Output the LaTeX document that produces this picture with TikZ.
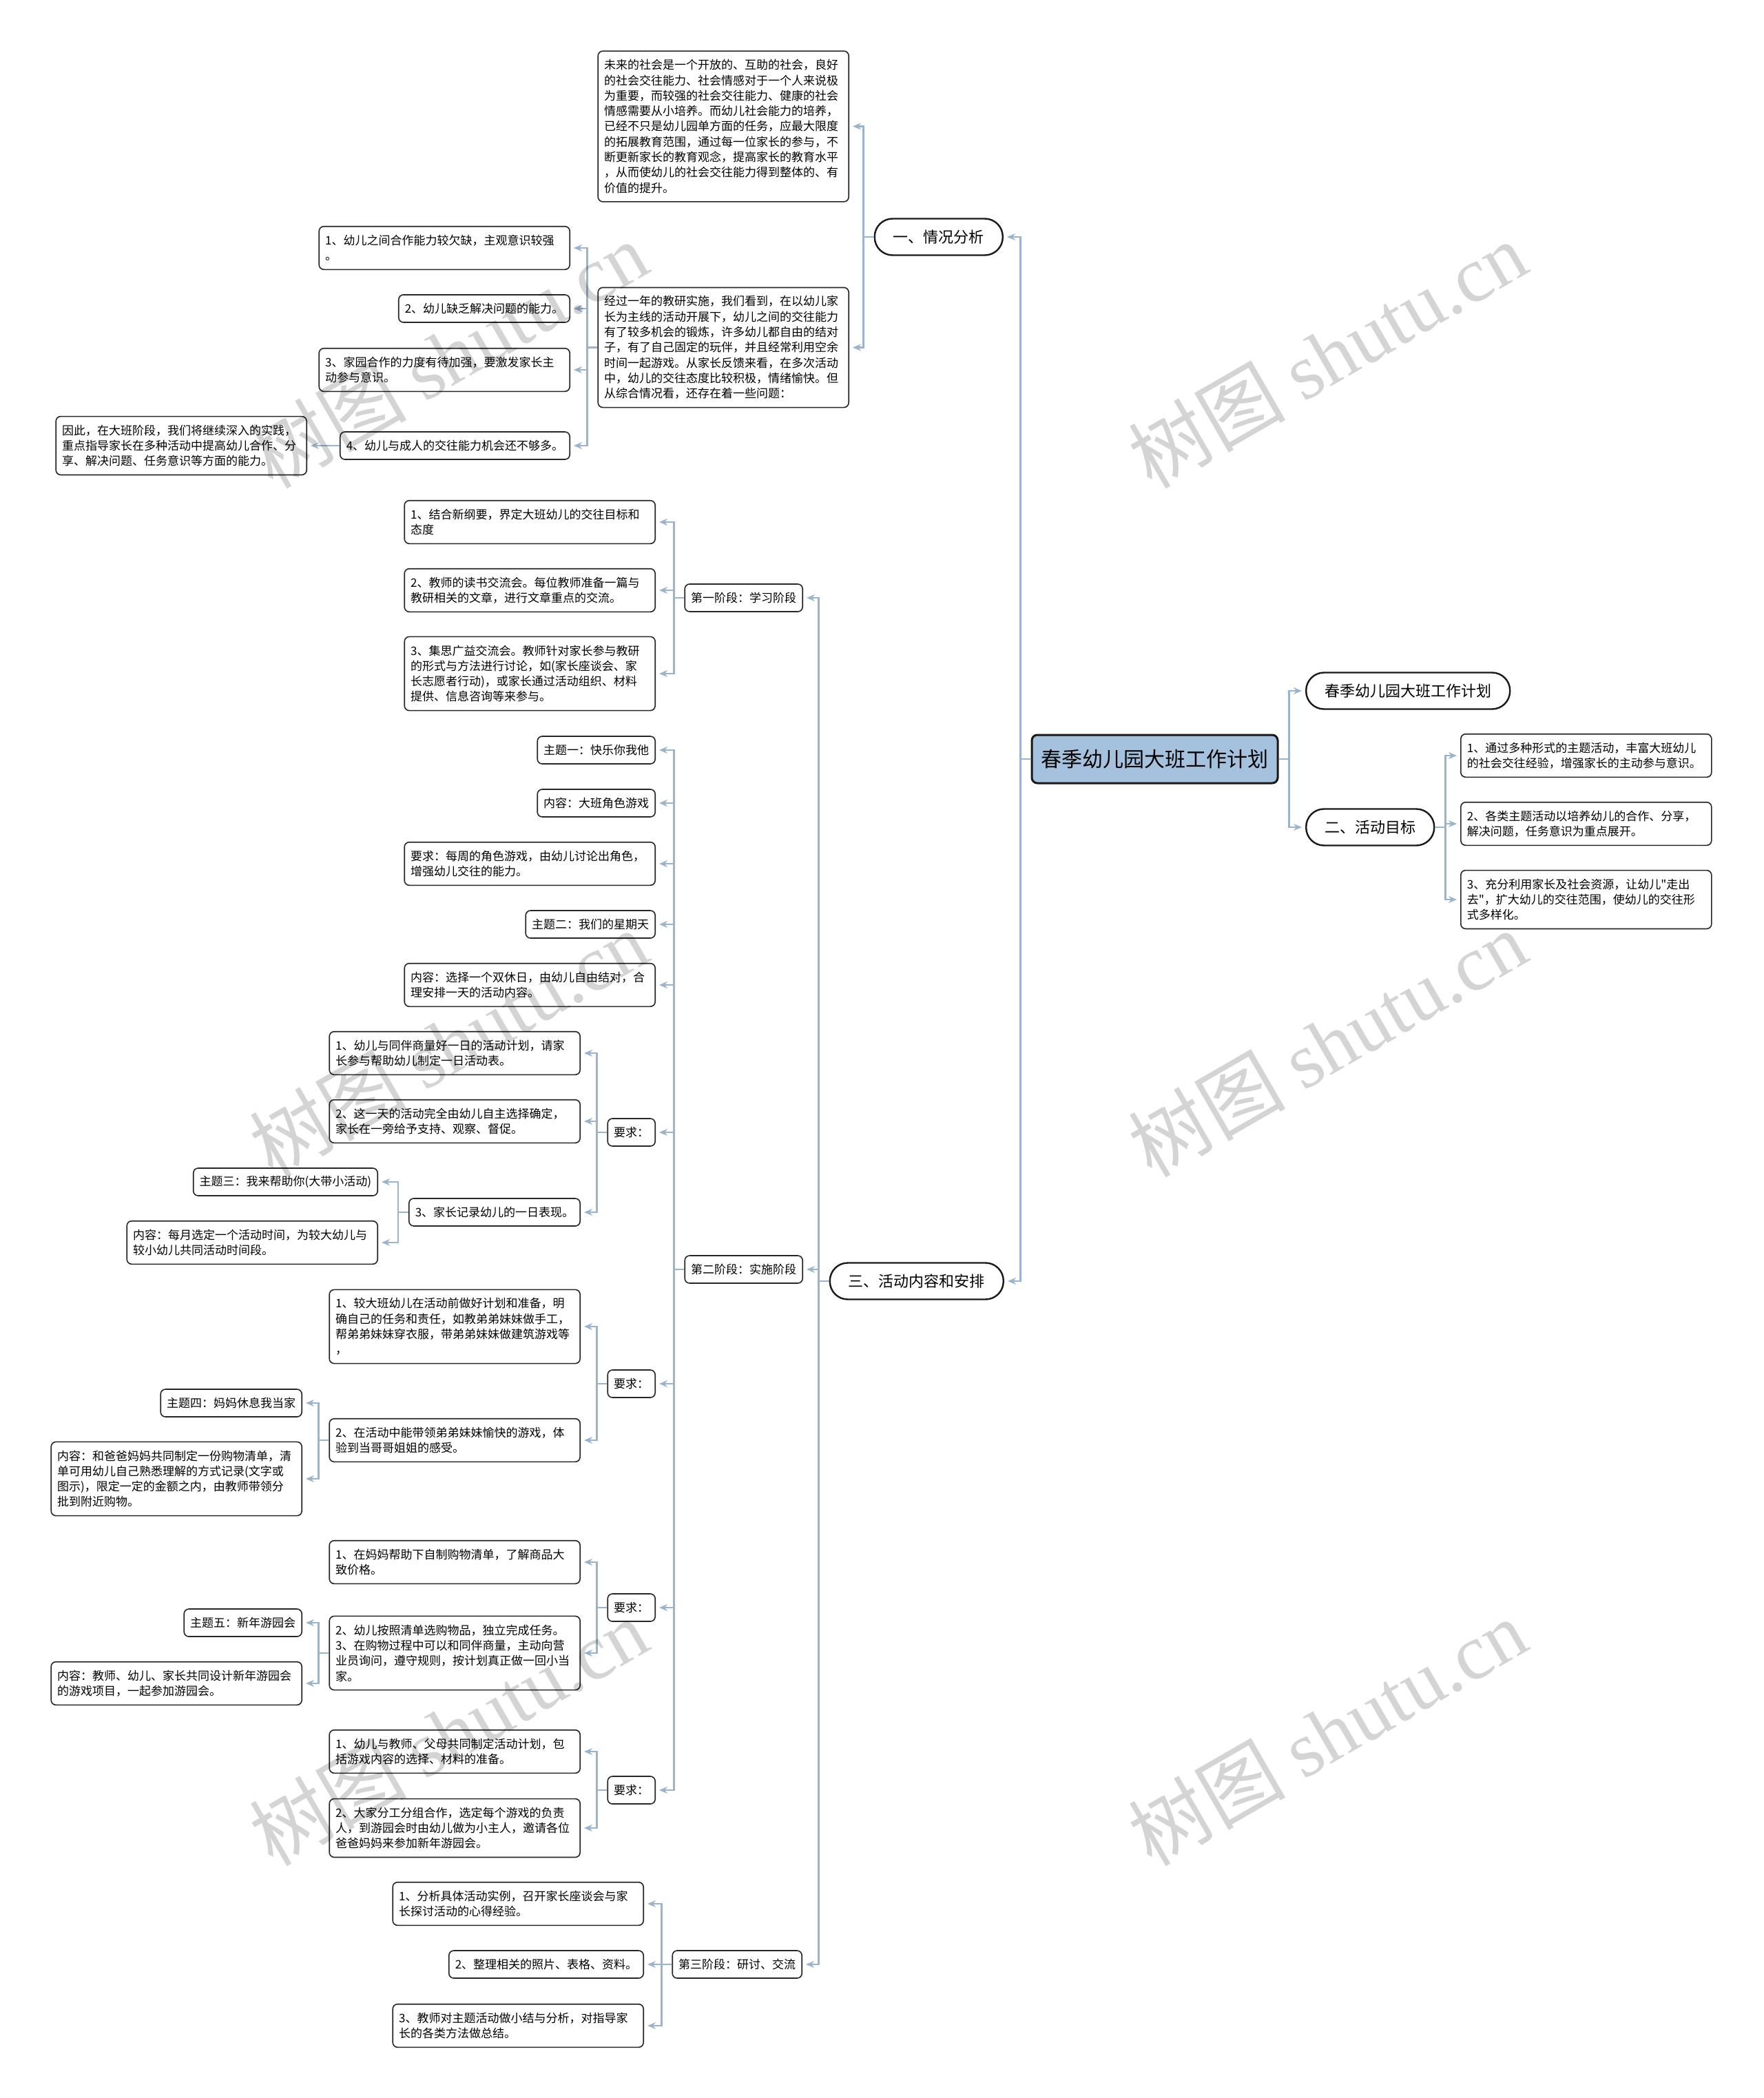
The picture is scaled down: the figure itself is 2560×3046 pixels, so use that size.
\documentclass[tikz,border=0pt]{standalone}
\usepackage{fontspec}
\setmainfont{Noto Sans CJK SC}[Ligatures=TeXOff]
\newfontfamily\wmlatin{Liberation Serif}
\usetikzlibrary{arrows.meta}
\definecolor{linkblue}{RGB}{152,180,206}
\definecolor{rootblue}{RGB}{164,194,221}

\begin{document}
\begin{tikzpicture}[x=1pt, y=-1pt,
  box/.style={draw=black!85, line width=1.6pt, rounded corners=7pt, fill=white,
    inner xsep=9pt, inner ysep=3pt, align=left, minimum height=40pt,
    font=\fontsize{17pt}{22.3pt}\selectfont},
  para/.style={box, text width=346pt, minimum height={22.3pt*#1+18pt}},
  pill/.style={draw=black!90, line width=2.4pt, rounded corners=26pt, fill=white,
    minimum height=53pt, inner xsep=27pt, font=\fontsize{22pt}{26pt}\selectfont},
  root/.style={draw=black!90, line width=3pt, rounded corners=8pt, fill=rootblue,
    minimum width=357pt, minimum height=70pt, font=\fontsize{30pt}{34pt}\selectfont},
  link/.style={draw=linkblue, line width=2.6pt, -{Stealth[length=12pt,width=10pt]},
    shorten >=5pt},
  wmark/.style={rotate=30, text=black, text opacity=0.17,
    font=\fontsize{114pt}{120pt}\selectfont}
]
\fill[white] (0,0) rectangle (2560,3046);
\useasboundingbox (0,0) rectangle (2560,3046);

\node[root] (root) at (1676.5,1102) {春季幼儿园大班工作计划};

% right branch
\node[pill, anchor=west] (title) at (1895,1003) {春季幼儿园大班工作计划};
\node[pill, anchor=west] (sec2) at (1895,1201) {二、活动目标};
\node[para=2, anchor=west] (g1) at (2120,1097) {1、通过多种形式的主题活动，丰富大班幼儿\\的社会交往经验，增强家长的主动参与意识。};
\node[para=2, anchor=west] (g2) at (2120,1196) {2、各类主题活动以培养幼儿的合作、分享，\\解决问题，任务意识为重点展开。};
\node[para=3, anchor=west] (g3) at (2120,1306) {3、充分利用家长及社会资源，让幼儿"走出\\去"，扩大幼儿的交往范围，使幼儿的交往形\\式多样化。};

% situation
\node[pill, anchor=east] (sec1) at (1457,344) {一、情况分析};
\node[para=9, anchor=east] (bg) at (1233,183.5) {未来的社会是一个开放的、互助的社会，良好\\的社会交往能力、社会情感对于一个人来说极\\为重要，而较强的社会交往能力、健康的社会\\情感需要从小培养。而幼儿社会能力的培养，\\已经不只是幼儿园单方面的任务，应最大限度\\的拓展教育范围，通过每一位家长的参与，不\\断更新家长的教育观念，提高家长的教育水平\\，从而使幼儿的社会交往能力得到整体的、有\\价值的提升。};
\node[para=7, anchor=east] (st) at (1233,504.5) {经过一年的教研实施，我们看到，在以幼儿家\\长为主线的活动开展下，幼儿之间的交往能力\\有了较多机会的锻炼，许多幼儿都自由的结对\\子，有了自己固定的玩伴，并且经常利用空余\\时间一起游戏。从家长反馈来看，在多次活动\\中，幼儿的交往态度比较积极，情绪愉快。但\\从综合情况看，还存在着一些问题：};
\node[para=2, anchor=east] (pr1) at (828,360) {1、幼儿之间合作能力较欠缺，主观意识较强\\。};
\node[box, anchor=east] (pr2) at (828,448) {2、幼儿缺乏解决问题的能力。};
\node[para=2, anchor=east] (pr3) at (828,537) {3、家园合作的力度有待加强，要激发家长主\\动参与意识。};
\node[box, anchor=east] (pr4) at (828,647) {4、幼儿与成人的交往能力机会还不够多。};
\node[para=3, anchor=east] (so) at (446,647) {因此，在大班阶段，我们将继续深入的实践，\\重点指导家长在多种活动中提高幼儿合作、分\\享、解决问题、任务意识等方面的能力。};

% activities
\node[pill, anchor=east] (sec3) at (1458,1860) {三、活动内容和安排};
\node[box, anchor=east] (ph1) at (1166,868) {第一阶段：学习阶段};
\node[para=2, anchor=east] (a1) at (952,758) {1、结合新纲要，界定大班幼儿的交往目标和\\态度};
\node[para=2, anchor=east] (a2) at (952,857) {2、教师的读书交流会。每位教师准备一篇与\\教研相关的文章，进行文章重点的交流。};
\node[para=4, anchor=east] (a3) at (952,978) {3、集思广益交流会。教师针对家长参与教研\\的形式与方法进行讨论，如(家长座谈会、家\\长志愿者行动)，或家长通过活动组织、材料\\提供、信息咨询等来参与。};

\node[box, anchor=east] (ph2) at (1166,1843) {第二阶段：实施阶段};
\node[box, anchor=east] (t1) at (952,1089) {主题一：快乐你我他};
\node[box, anchor=east] (t1c) at (952,1166) {内容：大班角色游戏};
\node[para=2, anchor=east] (t1r) at (952,1254) {要求：每周的角色游戏，由幼儿讨论出角色，\\增强幼儿交往的能力。};
\node[box, anchor=east] (t2) at (952,1342) {主题二：我们的星期天};
\node[para=2, anchor=east] (t2c) at (952,1430) {内容：选择一个双休日，由幼儿自由结对，合\\理安排一天的活动内容。};
\node[box, anchor=east] (rq1) at (952,1644) {要求：};
\node[para=2, anchor=east] (rq1a) at (843,1529) {1、幼儿与同伴商量好一日的活动计划，请家\\长参与帮助幼儿制定一日活动表。};
\node[para=2, anchor=east] (rq1b) at (843,1628) {2、这一天的活动完全由幼儿自主选择确定，\\家长在一旁给予支持、观察、督促。};
\node[box, anchor=east] (rq1c) at (843,1760) {3、家长记录幼儿的一日表现。};
\node[box, anchor=east] (t3) at (549,1716) {主题三：我来帮助你(大带小活动)};
\node[para=2, anchor=east] (t3c) at (549,1804) {内容：每月选定一个活动时间，为较大幼儿与\\较小幼儿共同活动时间段。};
\node[box, anchor=east] (rq2) at (952,2009) {要求：};
\node[para=4, anchor=east] (rq2a) at (843,1926) {1、较大班幼儿在活动前做好计划和准备，明\\确自己的任务和责任，如教弟弟妹妹做手工，\\帮弟弟妹妹穿衣服，带弟弟妹妹做建筑游戏等\\，};
\node[para=2, anchor=east] (rq2b) at (843,2091) {2、在活动中能带领弟弟妹妹愉快的游戏，体\\验到当哥哥姐姐的感受。};
\node[box, anchor=east] (t4) at (439,2037) {主题四：妈妈休息我当家};
\node[para=4, anchor=east] (t4c) at (439,2147) {内容：和爸爸妈妈共同制定一份购物清单，清\\单可用幼儿自己熟悉理解的方式记录(文字或\\图示)，限定一定的金额之内，由教师带领分\\批到附近购物。};
\node[box, anchor=east] (rq3) at (952,2334) {要求：};
\node[para=2, anchor=east] (rq3a) at (843,2268) {1、在妈妈帮助下自制购物清单，了解商品大\\致价格。};
\node[para=4, anchor=east] (rq3b) at (843,2400) {2、幼儿按照清单选购物品，独立完成任务。\\3、在购物过程中可以和同伴商量，主动向营\\业员询问，遵守规则，按计划真正做一回小当\\家。};
\node[box, anchor=east] (t5) at (439,2356) {主题五：新年游园会};
\node[para=2, anchor=east] (t5c) at (439,2444) {内容：教师、幼儿、家长共同设计新年游园会\\的游戏项目，一起参加游园会。};
\node[box, anchor=east] (rq4) at (952,2599) {要求：};
\node[para=2, anchor=east] (rq4a) at (843,2543) {1、幼儿与教师、父母共同制定活动计划，包\\括游戏内容的选择、材料的准备。};
\node[para=3, anchor=east] (rq4b) at (843,2654) {2、大家分工分组合作，选定每个游戏的负责\\人，到游园会时由幼儿做为小主人，邀请各位\\爸爸妈妈来参加新年游园会。};

\node[box, anchor=east] (ph3) at (1165,2852) {第三阶段：研讨、交流};
\node[para=2, anchor=east] (c1) at (935,2764) {1、分析具体活动实例，召开家长座谈会与家\\长探讨活动的心得经验。};
\node[box, anchor=east] (c2) at (935,2852) {2、整理相关的照片、表格、资料。};
\node[para=2, anchor=east] (c3) at (935,2941) {3、教师对主题活动做小结与分析，对指导家\\长的各类方法做总结。};

\draw[link] (root.east) -- ++(15,0) |- (title.west);
\draw[link] (root.east) -- ++(15,0) |- (sec2.west);
\draw[link] (sec2.east) -- ++(15,0) |- (g1.west);
\draw[link] (sec2.east) -- ++(15,0) |- (g2.west);
\draw[link] (sec2.east) -- ++(15,0) |- (g3.west);
\draw[link] (root.west) -- ++(-15,0) |- (sec1.east);
\draw[link] (root.west) -- ++(-15,0) |- (sec3.east);
\draw[link] (sec1.west) -- ++(-15,0) |- (bg.east);
\draw[link] (sec1.west) -- ++(-15,0) |- (st.east);
\draw[link] (st.west) -- ++(-15,0) |- (pr1.east);
\draw[link] (st.west) -- ++(-15,0) |- (pr2.east);
\draw[link] (st.west) -- ++(-15,0) |- (pr3.east);
\draw[link] (st.west) -- ++(-15,0) |- (pr4.east);
\draw[link] (pr4.west) -- (so.east);
\draw[link] (sec3.west) -- ++(-15,0) |- (ph1.east);
\draw[link] (sec3.west) -- ++(-15,0) |- (ph2.east);
\draw[link] (sec3.west) -- ++(-15,0) |- (ph3.east);
\draw[link] (ph1.west) -- ++(-15,0) |- (a1.east);
\draw[link] (ph1.west) -- ++(-15,0) |- (a2.east);
\draw[link] (ph1.west) -- ++(-15,0) |- (a3.east);
\draw[link] (ph2.west) -- ++(-15,0) |- (t1.east);
\draw[link] (ph2.west) -- ++(-15,0) |- (t1c.east);
\draw[link] (ph2.west) -- ++(-15,0) |- (t1r.east);
\draw[link] (ph2.west) -- ++(-15,0) |- (t2.east);
\draw[link] (ph2.west) -- ++(-15,0) |- (t2c.east);
\draw[link] (ph2.west) -- ++(-15,0) |- (rq1.east);
\draw[link] (ph2.west) -- ++(-15,0) |- (rq2.east);
\draw[link] (ph2.west) -- ++(-15,0) |- (rq3.east);
\draw[link] (ph2.west) -- ++(-15,0) |- (rq4.east);
\draw[link] (rq1.west) -- ++(-15,0) |- (rq1a.east);
\draw[link] (rq1.west) -- ++(-15,0) |- (rq1b.east);
\draw[link] (rq1.west) -- ++(-15,0) |- (rq1c.east);
\draw[link] (rq1c.west) -- ++(-15,0) |- (t3.east);
\draw[link] (rq1c.west) -- ++(-15,0) |- (t3c.east);
\draw[link] (rq2.west) -- ++(-15,0) |- (rq2a.east);
\draw[link] (rq2.west) -- ++(-15,0) |- (rq2b.east);
\draw[link] (rq2b.west) -- ++(-15,0) |- (t4.east);
\draw[link] (rq2b.west) -- ++(-15,0) |- (t4c.east);
\draw[link] (rq3.west) -- ++(-15,0) |- (rq3a.east);
\draw[link] (rq3.west) -- ++(-15,0) |- (rq3b.east);
\draw[link] (rq3b.west) -- ++(-15,0) |- (t5.east);
\draw[link] (rq3b.west) -- ++(-15,0) |- (t5c.east);
\draw[link] (rq4.west) -- ++(-15,0) |- (rq4a.east);
\draw[link] (rq4.west) -- ++(-15,0) |- (rq4b.east);
\draw[link] (ph3.west) -- ++(-15,0) |- (c1.east);
\draw[link] (ph3.west) -- ++(-15,0) |- (c2.east);
\draw[link] (ph3.west) -- ++(-15,0) |- (c3.east);

% watermarks
\node[wmark] (wm1) at (651,515) {树图 {\wmlatin shutu.cn}};
\node[wmark] (wm2) at (651,1515) {树图 {\wmlatin shutu.cn}};
\node[wmark] (wm3) at (651,2515) {树图 {\wmlatin shutu.cn}};
\node[wmark] (wm4) at (1927,515) {树图 {\wmlatin shutu.cn}};
\node[wmark] (wm5) at (1927,1515) {树图 {\wmlatin shutu.cn}};
\node[wmark] (wm6) at (1927,2515) {树图 {\wmlatin shutu.cn}};
\end{tikzpicture}
\end{document}
